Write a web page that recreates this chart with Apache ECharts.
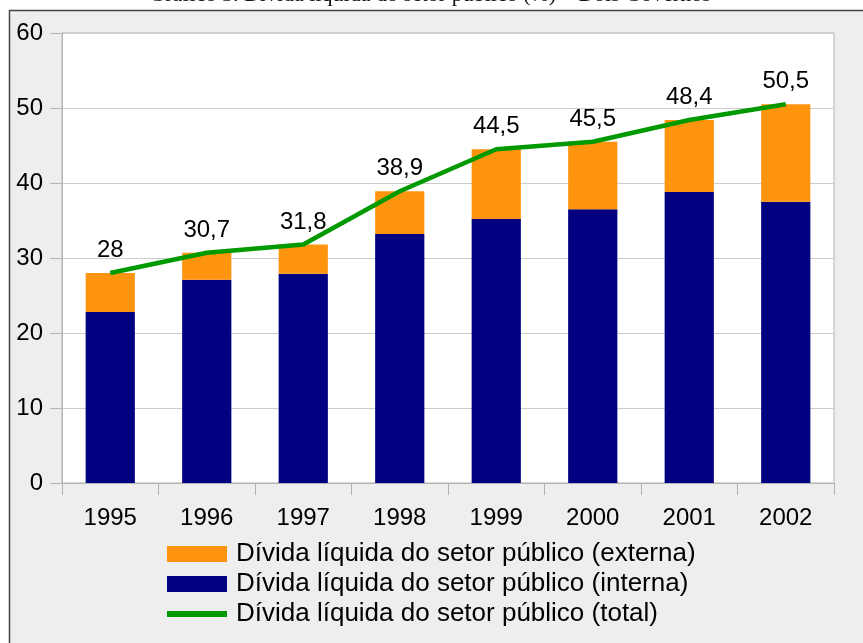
<!DOCTYPE html>
<html>
<head>
<meta charset="utf-8">
<script src="https://cdn.jsdelivr.net/npm/echarts@6/dist/echarts.min.js"></script>
<style>
  html, body { margin: 0; padding: 0; background: #fff; }
  #chart { width: 863px; height: 643px; }
</style>
</head>
<body>
<div id="chart"></div>
<script>
const years = ['1995', '1996', '1997', '1998', '1999', '2000', '2001', '2002']
const interna = [22.8, 27.1, 27.9, 33.2, 35.2, 36.5, 38.8, 37.5]
const externa = [5.2, 3.6, 3.9, 5.7, 9.3, 9.0, 9.6, 13.0]
const total = [28, 30.7, 31.8, 38.9, 44.5, 45.5, 48.4, 50.5]
const yTicks = [0, 10, 20, 30, 40, 50, 60]

const nameExt = 'Dívida líquida do setor público (externa)'
const nameInt = 'Dívida líquida do setor público (interna)'
const nameTot = 'Dívida líquida do setor público (total)'

const font = '"Liberation Sans", Arial, sans-serif'
const gray = '#b3b3b3'

const chart = echarts.init(document.getElementById('chart'))

chart.setOption({
  backgroundColor: '#eeeeee',
  animation: false,
  textStyle: { fontFamily: font },
  graphic: [
    { type: 'rect', shape: { x: 0, y: 0, width: 863, height: 10 }, style: { fill: '#fff' }, silent: true },
    { type: 'rect', shape: { x: 0, y: 0, width: 9, height: 643 }, style: { fill: '#fff' }, silent: true },
    { type: 'line', shape: { x1: 9, y1: 10.5, x2: 863, y2: 10.5 }, style: { stroke: '#444', lineWidth: 1.5 }, silent: true },
    { type: 'line', shape: { x1: 9.5, y1: 10, x2: 9.5, y2: 643 }, style: { stroke: '#444', lineWidth: 1.5 }, silent: true },
    {
      // chart caption, cut off by the top edge like in the scanned page
      type: 'text', x: 430, y: -5, silent: true,
      style: {
        text: 'Gráfico 3. Dívida líquida do setor público (%) – Dois Governos',
        fill: '#111', font: '22px "Liberation Serif", serif', align: 'center', verticalAlign: 'middle'
      }
    }
  ],
  grid: {
    left: 62, right: 29, top: 33, bottom: 160,
    show: true, backgroundColor: '#fff', borderColor: gray, borderWidth: 1
  },
  legend: [
    {
      orient: 'vertical', left: 167, top: 539, padding: 0, itemGap: 0,
      itemWidth: 60, itemHeight: 16, icon: 'rect',
      textStyle: { fontSize: 26, color: '#000', lineHeight: 30, padding: [0, 0, 0, 4] },
      data: [nameExt, nameInt]
    },
    {
      orient: 'vertical', left: 167, top: 599, padding: 0, itemGap: 0,
      itemWidth: 60, itemHeight: 6, icon: 'rect',
      textStyle: { fontSize: 26, color: '#000', lineHeight: 30, padding: [0, 0, 0, 4] },
      data: [nameTot]
    }
  ],
  xAxis: {
    type: 'category',
    data: years,
    boundaryGap: true,
    axisLine: { lineStyle: { color: gray } },
    axisTick: { show: true, length: 12, lineStyle: { color: gray } },
    axisLabel: { fontSize: 24, color: '#000', margin: 23 }
  },
  yAxis: {
    type: 'value',
    min: yTicks[0],
    max: yTicks[yTicks.length - 1],
    interval: 10,
    axisLine: { show: true, lineStyle: { color: gray } },
    axisTick: { show: true, length: 12, lineStyle: { color: gray } },
    axisLabel: { fontSize: 24, color: '#000', margin: 19 },
    splitLine: { lineStyle: { color: '#cccccc' } }
  },
  series: [
    {
      name: nameInt, type: 'bar', stack: 'div', data: interna,
      barWidth: '51%', itemStyle: { color: '#000080' }
    },
    {
      name: nameExt, type: 'bar', stack: 'div', data: externa,
      barWidth: '51%', itemStyle: { color: '#ff950e' }
    },
    {
      name: nameTot, type: 'line', data: total,
      symbol: 'circle', symbolSize: 1, showSymbol: true,
      itemStyle: { color: '#009900' },
      lineStyle: { color: '#009900', width: 4.5 },
      label: {
        show: true, position: 'top', distance: 10,
        fontSize: 24, color: '#000',
        formatter: (p) => String(p.value).replace('.', ',')
      },
      z: 5
    }
  ]
})
</script>
</body>
</html>
